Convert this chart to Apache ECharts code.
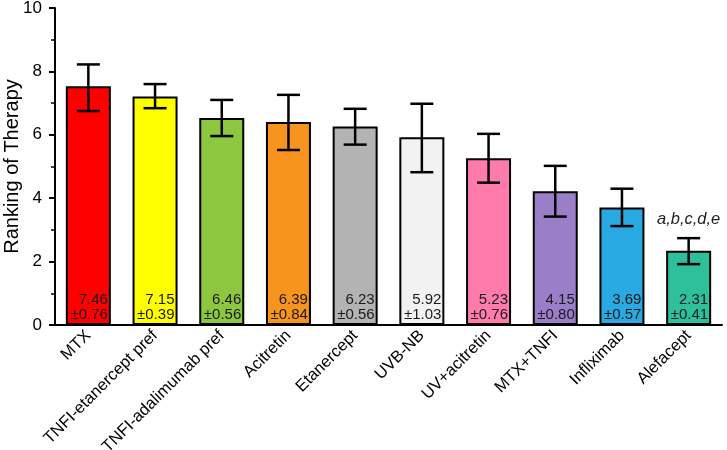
<!DOCTYPE html>
<html>
<head>
<meta charset="utf-8">
<script src="https://cdn.jsdelivr.net/npm/echarts@6/dist/echarts.min.js"></script>
<style>html,body{margin:0;padding:0;background:#fff}#c{width:727px;height:450px}</style>
</head>
<body>
<div id="c"></div>
<script>
var categories = ['MTX','TNFI-etanercept pref','TNFI-adalimumab pref','Acitretin','Etanercept','UVB-NB','UV+acitretin','MTX+TNFI','Infliximab','Alefacept'];
var barValues = [7.53, 7.21, 6.53, 6.40, 6.26, 5.92, 5.26, 4.22, 3.71, 2.34];
var errTop = [8.22, 7.60, 7.10, 7.26, 6.82, 6.98, 6.03, 5.02, 4.30, 2.74];
var errBottom = [6.75, 6.84, 5.96, 5.52, 5.69, 4.82, 4.49, 3.42, 3.12, 1.92];
var meanLabels = ['7.46','7.15','6.46','6.39','6.23','5.92','5.23','4.15','3.69','2.31'];
var sdLabels = ['±0.76','±0.39','±0.56','±0.84','±0.56','±1.03','±0.76','±0.80','±0.57','±0.41'];
var annotations = ['','','','','','','','','','a,b,c,d,e'];
var colors = ['#FF0000','#FFFF00','#8DC63F','#F7941D','#B3B3B3','#F2F2F2','#FF7BAC','#9B7EC8','#29A9E1','#2EC09A'];
var yTicks = [0, 2, 4, 6, 8, 10];

var chart = echarts.init(document.getElementById('c'));
var FONT = 'Liberation Sans, Arial, sans-serif';

var errData = categories.map(function(c, i){ return [i, errBottom[i], errTop[i]]; });

chart.setOption({
  animation: false,
  grid: { left: 55, right: 5, top: 8, bottom: 125, containLabel: false, outerBoundsMode: 'none' },
  xAxis: {
    type: 'category',
    data: categories,
    axisLine: { lineStyle: { color: '#000', width: 2 } },
    axisTick: { show: false },
    axisLabel: { rotate: 45, interval: 0, color: '#000', fontSize: 16.5, fontFamily: FONT, margin: 8 }
  },
  yAxis: {
    type: 'value',
    min: yTicks[0], max: yTicks[yTicks.length - 1], interval: 2,
    name: 'Ranking of Therapy',
    nameLocation: 'middle',
    nameGap: 33,
    nameMoveOverlap: false,
    nameTextStyle: { color: '#000', fontSize: 20, fontFamily: FONT },
    axisLine: { show: true, lineStyle: { color: '#000', width: 2 } },
    axisTick: { show: true, length: 6, lineStyle: { color: '#000', width: 2 } },
    minorTick: { show: true, splitNumber: 2, length: 4, lineStyle: { color: '#000', width: 1.5 } },
    splitLine: { show: false },
    axisLabel: { color: '#000', fontSize: 17, fontFamily: FONT, margin: 13 }
  },
  series: [
    {
      type: 'bar',
      barWidth: 45,
      data: barValues.map(function(v, i){
        return { value: v, itemStyle: { color: colors[i], borderColor: '#000', borderWidth: 2 } };
      }),
      label: {
        show: true,
        position: 'insideBottomRight',
        distance: 3,
        align: 'right',
        color: '#1a1a1a',
        fontSize: 15,
        lineHeight: 15,
        fontFamily: FONT,
        formatter: function(p){ return meanLabels[p.dataIndex] + '\n' + sdLabels[p.dataIndex]; }
      },
      z: 2
    },
    {
      type: 'custom',
      data: errData,
      z: 5,
      renderItem: function(params, api){
        var i = api.value(0);
        var lo = api.coord([i, api.value(1)]);
        var hi = api.coord([i, api.value(2)]);
        var hw = 11.5;
        var children = [
          { type: 'line', shape: { x1: hi[0], y1: hi[1], x2: lo[0], y2: lo[1] }, style: { stroke: '#000', lineWidth: 2.5 } },
          { type: 'line', shape: { x1: hi[0]-hw, y1: hi[1], x2: hi[0]+hw, y2: hi[1] }, style: { stroke: '#000', lineWidth: 2.5 } },
          { type: 'line', shape: { x1: lo[0]-hw, y1: lo[1], x2: lo[0]+hw, y2: lo[1] }, style: { stroke: '#000', lineWidth: 2.5 } }
        ];
        var ann = annotations[params.dataIndex];
        if (ann) {
          children.push({ type: 'text', style: { text: ann, x: hi[0], y: hi[1] - 10, align: 'center', verticalAlign: 'bottom', fill: '#222', font: 'italic 16.5px Liberation Sans, Arial, sans-serif' } });
        }
        return { type: 'group', children: children };
      }
    }
  ]
});
</script>
</body>
</html>
